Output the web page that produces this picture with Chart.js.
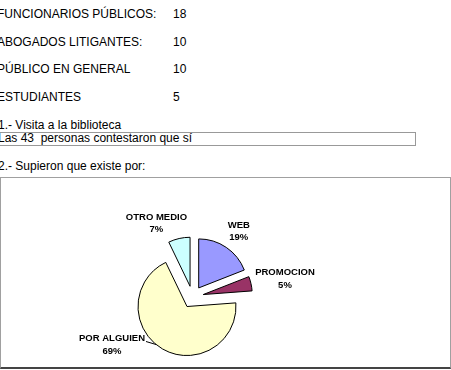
<!DOCTYPE html>
<html>
<head>
<meta charset="utf-8">
<script src="https://cdn.jsdelivr.net/npm/chart.js@4.4.1/dist/chart.umd.min.js"></script>
<style>
  body {
    margin: 0; width: 451px; height: 370px; overflow: hidden; position: relative;
    background: #fff; color: #000;
    font-family: "Liberation Sans", Arial, sans-serif; font-size: 12px; line-height: 14px;
  }
  .t { position: absolute; white-space: pre; }
  #caja1 { position: absolute; left: -2px; top: 132px; width: 416px; height: 12px; border: 1px solid #999; }
  #caja2 { position: absolute; left: 0; top: 177px; width: 449px; height: 189px;
           border: 1px solid #a0a0a0; border-bottom: 2px solid #444; }
  #wrap { position: absolute; left: 1px; top: 178px; width: 449px; height: 188px; }
</style>
</head>
<body>
<div id="filas"></div>
<div id="caja1"></div>
<div class="t" style="left:-2px; top:118px;">1.- Visita a la biblioteca</div>
<div class="t" style="left:-2px; top:131px;">Las 43  personas contestaron que sí</div>
<div class="t" style="left:-2px; top:159px;">2.- Supieron que existe por:</div>
<div id="caja2"></div>
<div id="wrap"><canvas id="grafica"></canvas></div>

<script>
// tabla de visitantes
var grupos = ['FUNCIONARIOS PÚBLICOS:', 'ABOGADOS LITIGANTES:', 'PÚBLICO EN GENERAL', 'ESTUDIANTES'];
var personas = [18, 10, 10, 5];

// pregunta 2
var categorias = ['WEB', 'PROMOCION', 'POR ALGUIEN', 'OTRO MEDIO'];
var respuestas = [8, 2, 29, 3];
var colores = ['#9999FF', '#993366', '#FFFFCC', '#CCFFFF'];

// ajuste fino de cada etiqueta (px)
var ajuste = [[4, -3], [1, -2], [-32, -19], [-15, 0]];

var filas = document.getElementById('filas');
grupos.forEach(function (g, i) {
    var top = 7 + i * 27.7;
    filas.innerHTML += '<div class="t" style="left:-3px; top:' + top + 'px;">' + g + '</div>' +
                       '<div class="t" style="left:173px; top:' + top + 'px;">' + personas[i] + '</div>';
});

// separa las rebanadas del centro
var separar = {
    id: 'separar',
    afterDatasetUpdate: function (chart, args) {
        args.meta.data.forEach(function (arc) {
            var mid = (arc.startAngle + arc.endAngle) / 2;
            arc.x += Math.cos(mid) * 11;
            arc.y += Math.sin(mid) * 11;
        });
    }
};

var etiquetas = {
    id: 'etiquetas',
    afterDatasetsDraw: function (chart) {
        var ctx = chart.ctx;
        var arcs = chart.getDatasetMeta(0).data;
        var total = respuestas.reduce(function (a, b) { return a + b; }, 0);
        ctx.save();
        ctx.font = 'bold 9.5px "Liberation Sans", Arial, sans-serif';
        ctx.fillStyle = '#000';
        ctx.strokeStyle = '#000';
        ctx.lineWidth = 1;
        ctx.textAlign = 'center';
        ctx.textBaseline = 'alphabetic';
        arcs.forEach(function (arc, i) {
            var mid = (arc.startAngle + arc.endAngle) / 2;
            var dx = Math.cos(mid), dy = Math.sin(mid);
            var pct = Math.round(respuestas[i] / total * 100) + '%';
            var w = Math.max(ctx.measureText(categorias[i]).width, ctx.measureText(pct).width);
            var h = 25;
            var R = arc.outerRadius;
            var cx = arc.x + (R + 4) * dx + dx * w / 2 + ajuste[i][0];
            var cy = arc.y + (R + 4) * dy + dy * h / 2 + ajuste[i][1];
            ctx.fillText(categorias[i], cx, cy - 6.25 + 3.4);
            ctx.fillText(pct, cx, cy + 6.25 + 3.4);
            if (Math.hypot(ajuste[i][0], ajuste[i][1]) > 25) {
                var s = dx < 0 ? 1 : -1;
                var sx = cx + s * (w / 2 + 1), sy = cy - 6.25 + 3.5;
                var ty = sy + 3;
                var ex = arc.x - s * Math.sqrt(Math.max(R * R - (ty - arc.y) * (ty - arc.y), 0));
                ctx.beginPath();
                ctx.moveTo(sx, sy);
                ctx.lineTo(ex, ty);
                ctx.stroke();
            }
        });
        ctx.restore();
    }
};

new Chart(document.getElementById('grafica'), {
    type: 'pie',
    data: {
        labels: categorias,
        datasets: [{
            data: respuestas,
            backgroundColor: colores,
            borderColor: '#000',
            borderWidth: 1,
            offset: 0,
            hoverOffset: 0,
            radius: 49
        }]
    },
    options: {
        responsive: true,
        maintainAspectRatio: false,
        animation: false,
        events: [],
        layout: { padding: { left: 0, right: 66, top: 50, bottom: 0 } },
        plugins: {
            legend: { display: false },
            tooltip: { enabled: false }
        }
    },
    plugins: [separar, etiquetas]
});
</script>
</body>
</html>
